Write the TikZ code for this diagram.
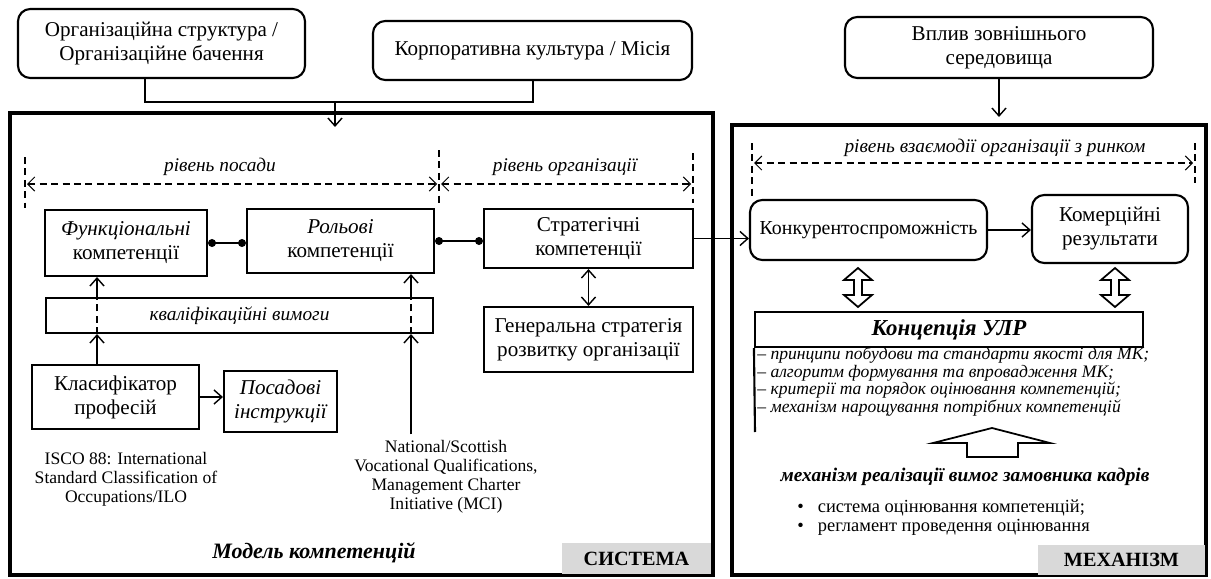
\documentclass[tikz,border=0pt]{standalone}
\usepackage{fontspec}
\setmainfont{Liberation Serif}
\usetikzlibrary{arrows.meta,positioning}

\begin{document}
\begin{tikzpicture}[x=0.2mm, y=-0.2mm,
    every node/.style={font=\fontsize{12}{13.7}\selectfont},
    rbox/.style={rectangle, rounded corners=7pt, draw, line width=1.2pt, align=center, inner sep=0pt},
    box/.style={rectangle, draw, line width=1.2pt, align=center, inner sep=0pt},
    frame/.style={line width=2pt},
    conn/.style={line width=0.8pt},
    arr/.style={conn, -{Straight Barb[length=4.5pt,width=8pt]}},
    dbar/.style={conn, {Straight Barb[length=4.5pt,width=8pt]}-{Straight Barb[length=4.5pt,width=8pt]}},
    dots/.style={conn, {Circle[length=4.5pt]}-{Circle[length=4.5pt]}},
    guide/.style={line width=0.6pt, dash pattern=on 4pt off 2.5pt},
    guidearr/.style={guide, {Straight Barb[length=4pt,width=8pt]}-{Straight Barb[length=4pt,width=8pt]}},
    lvl/.style={font=\fontsize{11}{13}\selectfont\itshape},
    note/.style={align=center, font=\fontsize{10}{10.8}\selectfont},
    tag/.style={rectangle, fill=black!15, inner sep=0pt, font=\fontsize{11.5}{13}\selectfont\bfseries},
    blockarr/.style={line width=1pt, fill=white},
]
\useasboundingbox (0,0) rectangle (1211,578);

% Top influences
\node[rbox, minimum width=57.4mm, minimum height=13.8mm] (org) at (161.5,43.5) {Організаційна структура /\\Організаційне бачення};
\node[rbox, minimum width=63.8mm, minimum height=11.8mm] (corp) at (532.5,50.5) {Корпоративна культура / Місія};
\node[rbox, minimum width=61.6mm, minimum height=12.2mm] (env) at (999,47.5) {Вплив зовнішнього\\середовища};

% Frames
\draw[frame] (10,113) rectangle (713,575);
\draw[frame] (732,125) rectangle (1206,575);

% Join of the top boxes
\coordinate (ojoin) at (145,102);
\coordinate (cjoin) at (533,102);
\coordinate (sjoin) at (335,102);
\coordinate (sysin) at (335,127);
\coordinate (mechin) at (999,117);
\draw[conn] (org.south -| ojoin) -- (ojoin) -- (cjoin) -- (corp.south -| cjoin);
\draw[arr] (sjoin) -- (sysin);
\draw[arr] (env.south) -- (mechin);

% Levels
\draw[guide] (25,157) -- (25,208);
\draw[guide] (439,150) -- (439,207);
\draw[guide] (693,153) -- (693,203);
\draw[guide] (752,143) -- (752,200);
\draw[guide] (1195,143) -- (1195,183);
\coordinate (g1) at (27,184);
\coordinate (g2) at (437,184);
\coordinate (g3) at (441,184);
\coordinate (g4) at (691,184);
\coordinate (g5) at (754,163);
\coordinate (g6) at (1193,163);
\draw[guidearr] (g1) -- (g2);
\draw[guidearr] (g3) -- (g4);
\draw[guidearr] (g5) -- (g6);
\node[lvl] (lpos) at (220,167) {рівень посади};
\node[lvl] (lorg) at (565,167) {рівень організації};
\node[lvl] (lmkt) at (995,148) {рівень взаємодії організації з ринком};

% Competence model
\node[box, minimum width=32.4mm, minimum height=13.2mm] (func) at (126,243) {\textit{Функціональні}\\компетенції};
\node[box, minimum width=37.4mm, minimum height=12.8mm] (role) at (340.5,241) {\textit{Рольові}\\компетенції};
\node[box, minimum width=41.8mm, minimum height=11.8mm] (strat) at (588.5,238.5) {Стратегічні\\компетенції};
\node[box, minimum width=77.4mm, minimum height=7mm, font=\fontsize{11}{13}\selectfont\itshape] (qual) at (239.5,315.5) {кваліфікаційні вимоги};
\node[box, minimum width=41.8mm, minimum height=13mm] (gen) at (588.5,339.5) {Генеральна стратегія\\розвитку організації};
\node[box, minimum width=33.4mm, minimum height=12.8mm] (klas) at (115.5,397) {Класифікатор\\професій};
\node[box, minimum width=22.6mm, minimum height=12.2mm, font=\fontsize{12}{13.7}\selectfont\itshape] (posad) at (280.5,401.5) {Посадові\\інструкції};
\node[note] (isco) at (126,479) {ISCO 88: International\\Standard Classification of\\Occupations/ILO};
\node[note] (natl) at (446,477) {National/Scottish\\Vocational Qualifications,\\Management Charter\\Initiative (MCI)};
\node[font=\fontsize{12.5}{14}\selectfont\bfseries\itshape] (model) at (314,553) {Модель компетенцій};
\node[tag, minimum width=29.8mm, minimum height=6.2mm] (systag) at (636.5,558.5) {СИСТЕМА};

% Model links
\coordinate (q1) at (97,0);
\coordinate (q2) at (411,0);
\draw[dots] (func.east) -- (func.east -| role.west);
\draw[dots] (role.east) -- (role.east -| strat.west);
\draw[dbar] (strat.south) -- (strat.south |- gen.north);
\draw[arr] (klas.north -| q1) -- (qual.south -| q1);
\draw[guide] (qual.south -| q1) -- (qual.north -| q1);
\draw[arr] (qual.north -| q1) -- (func.south -| q1);
\draw[arr] (natl.north -| q2) -- (qual.south -| q2);
\draw[guide] (qual.south -| q2) -- (qual.north -| q2);
\draw[arr] (qual.north -| q2) -- (role.south -| q2);
\draw[arr] (klas.east) -- (klas.east -| posad.west);

% Mechanism
\node[rbox, minimum width=47.4mm, minimum height=12mm, font=\fontsize{11.3}{13}\selectfont] (konk) at (868.5,230) {Конкурентоспроможність};
\node[rbox, minimum width=31.2mm, minimum height=13.6mm] (komer) at (1110,229) {Комерційні\\результати};
\node[box, minimum width=77.6mm, minimum height=7mm, font=\fontsize{13}{15}\selectfont\bfseries\itshape] (konc) at (949,329.5) {Концепція УЛР};
\node[anchor=west, align=left, inner sep=0pt, font=\fontsize{10}{10.1}\selectfont\itshape] (konclist) at (757,381.5) {-- принципи побудови та стандарти якості для МК;\\-- алгоритм формування та впровадження МК;\\-- критерії та порядок оцінювання компетенцій;\\-- механізм нарощування потрібних компетенцій};
\coordinate (konctail) at (755,432);
\draw[line width=1.2pt] (konc.south west) -- (konctail);
\node[font=\fontsize{11}{13}\selectfont\bfseries\itshape] (mechreq) at (965,477) {механізм реалізації вимог замовника кадрів};
\node[anchor=west, align=left, inner sep=0pt, font=\fontsize{10.5}{10.8}\selectfont] (bullets) at (797,517.5) {\textbullet\hspace{8pt}система оцінювання компетенцій;\\\textbullet\hspace{8pt}регламент проведення оцінювання};
\node[tag, minimum width=33.4mm, minimum height=6mm] (mechtag) at (1121.5,560) {МЕХАНІЗМ};

% Mechanism links
\draw[arr] (strat.east) -- (strat.east -| konk.west);
\draw[arr] (konk.east) -- (konk.east -| komer.west);
\foreach \cx in {858,1115}
    \draw[blockarr] (\cx-4,280) -- (\cx-14,280) -- (\cx,268) -- (\cx+14,280) -- (\cx+4,280)
        -- (\cx+4,295) -- (\cx+14,295) -- (\cx,307) -- (\cx-14,295) -- (\cx-4,295) -- cycle;
\draw[blockarr] (967,457) -- (967,443) -- (933,443) -- (992,428) -- (1050,443) -- (1018,443) -- (1018,457) -- cycle;

\end{tikzpicture}
\end{document}
